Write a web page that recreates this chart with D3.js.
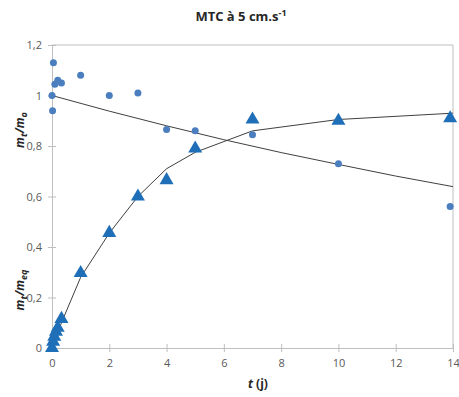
<!DOCTYPE html>
<html><head><meta charset="utf-8">
<script src="https://cdn.jsdelivr.net/npm/d3@7"></script>
<style>body{margin:0;background:#fff;} svg{display:block;font-family:"Open Sans","Liberation Sans",sans-serif;}</style>
</head><body><svg id="c" width="459" height="397"></svg>
<script>
// m_t/m_o (circles)
const circT = [0, 0.02, 0.05, 0.1, 0.2, 0.33, 1, 2, 3, 4, 5, 7, 10, 13.9];
const circV = [1.0, 0.94, 1.13, 1.045, 1.06, 1.05, 1.08, 1.0, 1.01, 0.865, 0.86, 0.845, 0.73, 0.56];
// fit line for m_t/m_o
const fitOT = [0, 2, 4, 6, 8, 10, 12, 14];
const fitOV = [1.0, 0.938, 0.88, 0.825, 0.774, 0.727, 0.681, 0.639];
// m_t/m_eq (triangles)
const triT = [0, 0.04, 0.08, 0.14, 0.2, 0.33, 1, 2, 3, 4, 5, 7, 10, 13.9];
const triV = [0, 0.025, 0.045, 0.065, 0.08, 0.115, 0.297, 0.456, 0.60, 0.665, 0.79, 0.905, 0.90, 0.91];
// fit curve for m_t/m_eq
const fitET = [0, 0.33, 1, 2, 3, 4, 5, 7, 10, 14];
const fitEV = [0, 0.10, 0.28, 0.455, 0.60, 0.71, 0.775, 0.86, 0.905, 0.93];
// ticks
const xTicks = [0, 2, 4, 6, 8, 10, 12, 14];
const yTicks = [0, 0.2, 0.4, 0.6, 0.8, 1.0, 1.2];

const svg = d3.select("#c");
const L = 52, R = 453, T = 45, B = 348;
const x = d3.scaleLinear().domain([0, 14]).range([L, R]);
const y = d3.scaleLinear().domain([0, 1.2]).range([B, T]);
const fmt = v => (v === 0 ? "0" : d3.format(".1~f")(v).replace(".", ","));
const axisCol = "#bfbfbf", txtCol = "#595959";

// frame top/right
svg.append("line").attr("x1", L).attr("x2", R).attr("y1", T).attr("y2", T).attr("stroke", axisCol);
svg.append("line").attr("x1", R).attr("x2", R).attr("y1", T).attr("y2", B).attr("stroke", axisCol);

const gx = svg.append("g").attr("transform", `translate(0,${B})`)
  .call(d3.axisBottom(x).tickValues(xTicks).tickFormat(fmt).tickSize(4).tickPadding(7));
gx.selectAll(".tick line").attr("y1", -4);
const gy = svg.append("g").attr("transform", `translate(${L},0)`)
  .call(d3.axisLeft(y).tickValues(yTicks).tickFormat(fmt).tickSize(4).tickPadding(6));
gy.selectAll(".tick line").attr("x1", 4);
[gx, gy].forEach(g => {
  g.select(".domain").attr("stroke", axisCol);
  g.selectAll(".tick line").attr("stroke", axisCol);
  g.selectAll(".tick text").attr("fill", txtCol).style("font-size", "11px").style("font-family", "'Open Sans','Liberation Sans',sans-serif");
});
gy.selectAll(".tick text").attr("dy", "0.35em");

// lines
const line = d3.line().x(d => x(d[0])).y(d => y(d[1]));
svg.append("path").datum(fitOT.map((t, i) => [t, fitOV[i]])).attr("d", line)
  .attr("fill", "none").attr("stroke", "#404040").attr("stroke-width", 1);
svg.append("path").datum(fitET.map((t, i) => [t, fitEV[i]])).attr("d", line)
  .attr("fill", "none").attr("stroke", "#404040").attr("stroke-width", 1);

// circles
svg.append("g").selectAll("circle").data(circT.map((t, i) => [t, circV[i]])).join("circle")
  .attr("cx", d => x(d[0])).attr("cy", d => y(d[1])).attr("r", 3.5).attr("fill", "#4a7ebf");
// triangles
const tri = d3.symbol().type(d3.symbolTriangle).size(85);
svg.append("g").selectAll("path").data(triT.map((t, i) => [t, triV[i]])).join("path")
  .attr("d", tri).attr("transform", d => `translate(${x(d[0])},${y(d[1])})`).attr("fill", "#1f6fb8");

// title
const title = svg.append("text").attr("x", 241).attr("y", 21).attr("text-anchor", "middle")
  .style("font-size", "13px").style("font-weight", "bold").attr("fill", "#262626");
title.append("tspan").text("MTC à 5 cm.s");
title.append("tspan").attr("dy", -5).style("font-size", "9px").text("-1");

// x label
const xl = svg.append("text").attr("x", 258).attr("y", 388).attr("text-anchor", "middle")
  .style("font-size", "12px").style("font-weight", "bold").attr("fill", "#262626");
xl.append("tspan").style("font-style", "italic").text("t");
xl.append("tspan").text(" (j)");

// y labels
function ylab(cy, sub2) {
  const t = svg.append("text").attr("transform", `translate(24,${cy}) rotate(-90)`).attr("text-anchor", "middle")
    .style("font-size", "12px").style("font-weight", "bold").style("font-style", "italic").attr("fill", "#262626");
  t.append("tspan").text("m");
  t.append("tspan").attr("dy", 3).style("font-size", "9px").text("t");
  t.append("tspan").attr("dy", -3).text("/m");
  t.append("tspan").attr("dy", 3).style("font-size", "9px").text(sub2);
}
ylab(130, "o");
ylab(290, "eq");
</script></body></html>
